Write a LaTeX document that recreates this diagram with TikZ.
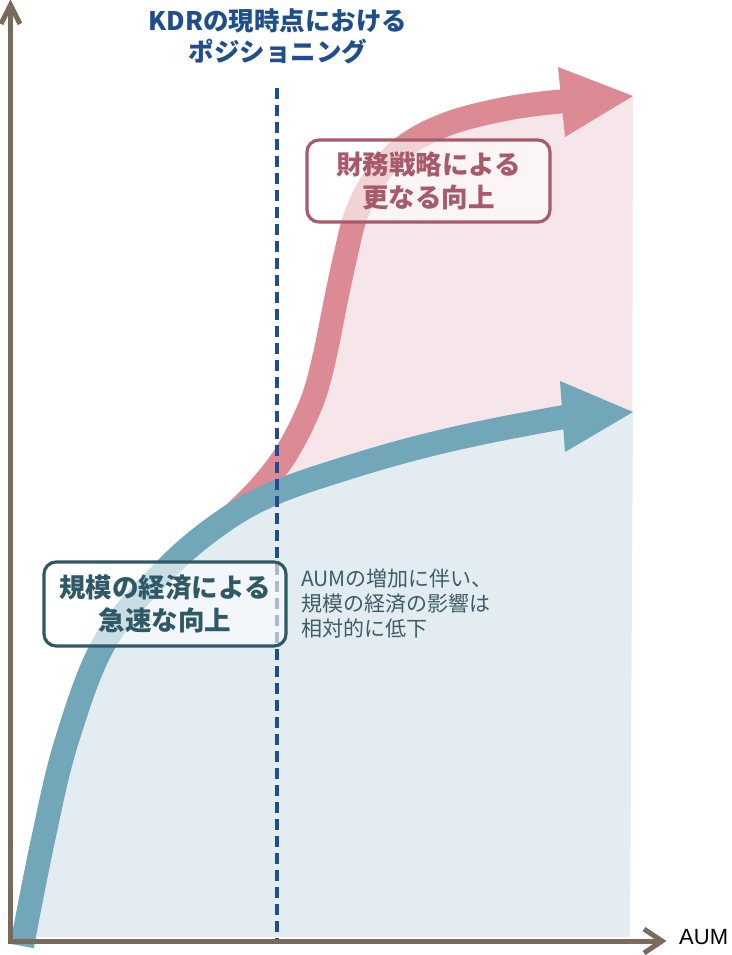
\documentclass[tikz,border=0pt]{standalone}
\usepackage{fontspec}
\newfontfamily\jp{Noto Sans CJK JP}
\newfontfamily\lib{Liberation Sans}
\definecolor{axisc}{HTML}{7A6A5A}
\definecolor{bluefill}{HTML}{E3ECF0}
\definecolor{pinkfill}{HTML}{F7E6E9}
\definecolor{bluestroke}{HTML}{72A7BA}
\definecolor{pinkstroke}{HTML}{DC8A93}
\definecolor{navy}{HTML}{1F4E8C}
\definecolor{pinkdark}{HTML}{A85A6A}
\definecolor{tealdark}{HTML}{2F5966}
\definecolor{annot}{HTML}{3D5D6A}
\begin{document}
\begin{tikzpicture}[x=1pt,y=-1pt,
  band/.style={line width=24pt},
  axisline/.style={axisc, line width=5pt},
  boxstyle/.style={rounded corners=12pt, line width=3.2pt, fill=white, fill opacity=0.62, text opacity=1, align=center, inner sep=0pt},
  boxfont/.style={font=\jp\bfseries\fontsize{26.5}{33}\selectfont}]
\useasboundingbox (0,0) rectangle (731,955);
\fill[white] (0,0) rectangle (731,955);
% pink region and pink arrow, kept above the blue curve
\begin{scope}
\clip plot[smooth,tension=0.6] coordinates{(22,946) (43,840) (67,740) (106,640) (168,567) (225,520) (277,492) (350,467) (420,447) (490,431) (564,417)} -- (731,417) -- (731,0) -- (0,0) -- (0,946) -- cycle;
\fill[pinkfill] plot[smooth,tension=0.6] coordinates{(200,548) (232,516) (258,490) (280,463) (294,440) (305,418) (316,390) (326,350) (336,300) (345,258) (356,215) (375,178) (405,146) (450,123) (510,108) (565,101)} -- (633,96) -- (631,937) -- (200,937) -- cycle;
\draw[band, pinkstroke] plot[smooth,tension=0.6] coordinates{(200,548) (232,516) (258,490) (280,463) (294,440) (305,418) (316,390) (326,350) (336,300) (345,258) (356,215) (375,178) (405,146) (450,123) (510,108) (565,101)};
\end{scope}
\fill[pinkstroke] (558,67) -- (633,96) -- (565,137) -- cycle;
% blue region
\fill[bluefill] plot[smooth,tension=0.6] coordinates{(22,946) (43,840) (67,740) (106,640) (168,567) (225,520) (277,492) (350,467) (420,447) (490,431) (564,417)} -- (633,412) -- (630,937) -- (22,937) -- cycle;
% blue arrow
\draw[band, bluestroke] plot[smooth,tension=0.6] coordinates{(22,946) (43,840) (67,740) (106,640) (168,567) (225,520) (277,492) (350,467) (420,447) (490,431) (564,417)};
\fill[bluestroke] (560,381) -- (633,412) -- (565,452) -- cycle;
% dashed current position
\coordinate (dtop) at (277,88);
\coordinate (dbot) at (277,940);
\draw[navy, line width=3.5pt, dash pattern=on 11pt off 6pt] (dtop) -- (dbot);
% axes
\coordinate (ytip) at (10.5,5);
\coordinate (origin) at (10.5,941);
\coordinate (xtip) at (662,941);
\draw[axisline] (ytip) -- (origin) -- (xtip);
\draw[axisline] (1,24) -- (ytip) -- (20,24);
\draw[axisline] (644,929) -- (xtip) -- (644,953);
% boxes
\node[boxstyle, draw=pinkdark, text=pinkdark, boxfont, minimum width=243pt, minimum height=82pt] (pinkbox) at (428.5,181) {財務戦略による\\更なる向上};
\node[boxstyle, draw=tealdark, text=tealdark, boxfont, minimum width=242pt, minimum height=84pt] (bluebox) at (165,604) {規模の経済による\\急速な向上};
% texts
\node[navy, font=\jp\bfseries\fontsize{25.5}{31}\selectfont, align=center, inner sep=0pt] (title) at (278,36.5) {KDRの現時点における\\ポジショニング};
\node[annot, font=\jp\fontsize{21}{25}\selectfont, align=left, anchor=west, inner sep=0pt] (note) at (301,603) {AUMの増加に伴い、\\規模の経済の影響は\\相対的に低下};
\node[black, font=\lib\fontsize{22}{26}\selectfont, anchor=west, inner sep=0pt] (aum) at (679,937) {AUM};
\end{tikzpicture}
\end{document}
